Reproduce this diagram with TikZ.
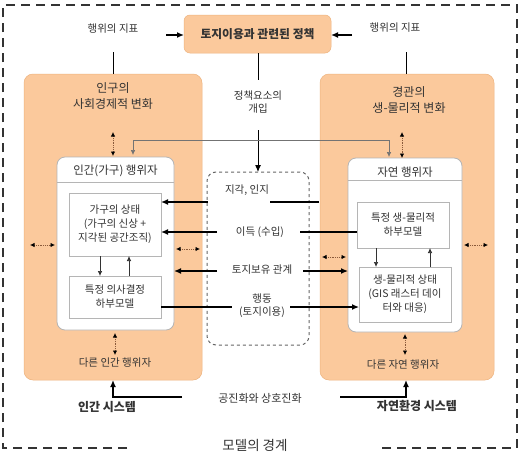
\documentclass[tikz,border=0pt]{standalone}
\usepackage{fontspec}
\setmainfont{Noto Sans CJK KR}
\usetikzlibrary{arrows.meta,calc}
\definecolor{orng}{HTML}{FBC99C}
\definecolor{orngd}{HTML}{EDB37E}
\definecolor{txt}{HTML}{333333}
\definecolor{bord}{HTML}{B5B5B5}
\definecolor{dotc}{HTML}{8A5A3A}
\begin{document}
\begin{tikzpicture}[x=1pt,y=-1pt,
  every node/.style={text=txt, inner sep=0pt, outer sep=0pt},
  lbl/.style={font=\fontsize{10.5}{13}\selectfont, align=center},
  big/.style={font=\fontsize{12}{16}\selectfont, align=center},
  orangebox/.style={draw=orngd, fill=orng, rounded corners=9pt, line width=0.5pt},
  whitebox/.style={draw=bord, fill=white, rounded corners=8pt, line width=0.8pt},
  subbox/.style={draw=bord, fill=white, line width=0.8pt, font=\fontsize{10.5}{14}\selectfont, align=center},
  arr/.style={line width=1.3pt, draw=black, -{Latex[length=7pt,width=6pt]}},
  plain/.style={line width=1.3pt, draw=black},
  thinarr/.style={line width=0.7pt, draw=black!80, -{Latex[length=5pt,width=4.5pt]}},
  dotarr/.style={densely dotted, line width=0.8pt, draw=dotc, {Latex[length=4.5pt,width=4.5pt,color=black]}-{Latex[length=4.5pt,width=4.5pt,color=black]}},
  grayarr/.style={line width=0.6pt, draw=black!55, {Latex[length=5pt,width=4.5pt]}-{Latex[length=5pt,width=4.5pt]}}
]
\useasboundingbox (0,0) rectangle (524,455);
\fill[white] (0,0) rectangle (524,455);

% outer model boundary
\coordinate (bL) at (127,448);
\coordinate (bR) at (381,448);
\draw[line width=1.6pt, draw=black!80, dash pattern=on 9pt off 6pt]
  (bL) -- (3,448) -- (3,5) -- (517,5) -- (517,448) -- (bR);
\node[font=\fontsize{13.5}{16}\selectfont] (bound) at (255,445) {모델의 경계};

% big orange boxes
\node[orangebox, minimum width=178pt, minimum height=306pt] (pop) at (113,227) {};
\node[orangebox, minimum width=174pt, minimum height=306pt] (land) at (407,227) {};
\node[big] (popT) at (113,96) {인구의\\사회경제적 변화};
\node[big] (landT) at (409,100) {경관의\\생-물리적 변화};

% policy box
\node[orangebox, rounded corners=6pt, minimum width=147pt, minimum height=38pt,
      font=\bfseries\fontsize{11.8}{14}\selectfont] (policy) at (257.5,34) {토지이용과 관련된 정책};

% indicators
\node[lbl] (indL) at (113,29) {행위의 지표};
\node[lbl] (indR) at (395,28) {행위의 지표};
\coordinate (indLa) at (166,35);
\coordinate (indRa) at (352,35);
\draw[arr] (indLa) -- (indLa -| policy.west);
\draw[arr] (indRa) -- (indRa -| policy.east);
\draw[line width=0.9pt] (113,52) -- (pop.north);
\draw[line width=0.9pt] (406,52) -- (406,74);

% inner white boxes
\node[whitebox, minimum width=117pt, minimum height=173pt] (hum) at (115.5,243.5) {};
\node[whitebox, minimum width=114pt, minimum height=174pt] (nat) at (405,245) {};
\draw[bord, line width=0.8pt] ([yshift=-25pt]hum.north west) -- ([yshift=-25pt]hum.north east);
\draw[bord, line width=0.8pt] ([yshift=-22pt]nat.north west) -- ([yshift=-22pt]nat.north east);
\node[font=\fontsize{11.5}{14}\selectfont] (humT) at (115.5,171) {인간(가구) 행위자};
\node[font=\fontsize{11.5}{14}\selectfont] (natT) at (405,172) {자연 행위자};

% sub-boxes
\node[subbox, minimum width=92pt, minimum height=63pt] (hh) at (115,224.5) {가구의 상태\\(가구의 신상 +\\지각된 공간조직)};
\node[subbox, minimum width=92pt, minimum height=42pt] (dec) at (115,297) {특정 의사결정\\하부모델};
\node[subbox, minimum width=92pt, minimum height=46pt] (bios) at (403,225) {특정 생-물리적\\하부모델};
\node[subbox, minimum width=92pt, minimum height=55pt] (biost) at (405,294.5) {생-물리적 상태\\(GIS 래스터 데이\\터와 대응)};

\draw[thinarr] (hh.south -| 100,0) -- (dec.north -| 100,0);
\draw[thinarr] (dec.north -| 129,0) -- (hh.south -| 129,0);
\draw[thinarr] (bios.south -| 376,0) -- (biost.north -| 376,0);
\draw[thinarr] (biost.north -| 430,0) -- (bios.south -| 430,0);

% middle dashed box
\node[draw=black!60, dashed, line width=1pt, rounded corners=9pt, minimum width=102pt, minimum height=173pt] (mid) at (258,258.5) {};

% policy intervention
\node[lbl] (polT) at (258,102) {정책요소의\\개입};
\coordinate (polA) at (258,80);
\coordinate (polB) at (258,130);
\draw[line width=1pt] (policy.south -| polA) -- (polA);
\draw[line width=1pt, -{Latex[length=7pt,width=6pt]}] (polB) -- (mid.north);

% gray feedback line
\coordinate (gL) at (133,155);
\coordinate (gR) at (389,157);
\draw[grayarr] (gL) -- (133,140) -- (389,140) -- (gR);

% dotted double arrows
\draw[dotarr] (113,132) -- (113,156);
\draw[dotarr] (402,132) -- (402,158);
\draw[dotarr] (30,245) -- (55,245);
\draw[dotarr] (176,249) -- (200,249);
\draw[dotarr] (322,257) -- (346,257);
\draw[dotarr] (464,245) -- (488,245);
\draw[dotarr] (115,333) -- (115,355);
\draw[dotarr] (405,334) -- (405,355);

% middle labels and arrows
\node[lbl] (perc) at (247,190) {지각, 인지};
\coordinate (percA) at (319,202);
\coordinate (percB) at (270,202);
\coordinate (percC) at (208,202);
\draw[plain] (percA) -- (percB);
\draw[arr] (percC) -- (percC -| hh.east);

\node[lbl] (gain) at (260,232) {이득 (수입)};
\coordinate (gainA) at (300,232);
\coordinate (gainC) at (217,232);
\draw[plain] (gainA) -- (gainA -| bios.west);
\draw[arr] (gainC) -- (gainC -| hh.east);

\node[lbl] (ten) at (262,270) {토지보유 관계};
\coordinate (tenL) at (217,271);
\coordinate (tenR) at (303,271);
\draw[arr] (tenL) -- (tenL -| hum.east);
\draw[arr] (tenR) -- (tenR -| nat.west);

\node[lbl] (act) at (262,306) {행동\\(토지이용)};
\coordinate (actL) at (232,307);
\coordinate (actR) at (290,307);
\draw[plain] (actL -| dec.east) -- (actL);
\draw[arr] (actR) -- (actR -| biost.west);

% bottom
\node[lbl] (othH) at (115,363) {다른 인간 행위자};
\node[lbl] (othN) at (403,365) {다른 자연 행위자};
\node[font=\bfseries\fontsize{12}{14}\selectfont] (humS) at (107,407) {인간 시스템};
\node[font=\bfseries\fontsize{12}{14}\selectfont] (natS) at (417,406) {자연환경 시스템};
\node[font=\fontsize{11}{14}\selectfont] (coev) at (260,398) {공진화와 상호진화};
\coordinate (cL) at (182,397);
\coordinate (cR) at (340,397);
\draw[arr] (cL) -- (113,397) -- (pop.south);
\draw[arr] (cR) -- (406,397) -- (406,380);
\end{tikzpicture}
\end{document}
